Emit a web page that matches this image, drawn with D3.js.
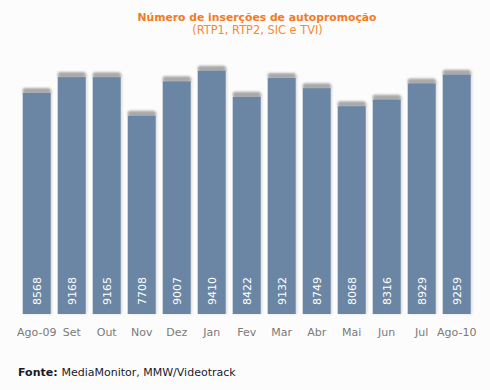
<!DOCTYPE html>
<html>
<head>
<meta charset="utf-8">
<script src="https://cdn.jsdelivr.net/npm/d3@7"></script>
<style>
  body { margin: 0; background: #fcfcfc; }
  svg { display: block; font-family: "DejaVu Sans", Verdana, sans-serif; }
</style>
</head>
<body>
<svg id="chart" width="490" height="390"></svg>
<script>
const months = ["Ago-09", "Set", "Out", "Nov", "Dez", "Jan", "Fev", "Mar", "Abr", "Mai", "Jun", "Jul", "Ago-10"];
const insertions = [8568, 9168, 9165, 7708, 9007, 9410, 8422, 9132, 8749, 8068, 8316, 8929, 9259];

let svg = d3.select("#chart");
let baseY = 314;

let x = d3.scaleBand()
  .domain(months)
  .range([19.2, 474.2])
  .paddingInner(0.2)
  .paddingOuter(0.1);

let y = d3.scaleLinear()
  .domain([0, 10000])
  .range([319.7, 55.1]);

let defs = svg.append("defs");
defs.append("filter")
  .attr("id", "soft")
  .attr("x", "-20%").attr("y", "-50%")
  .attr("width", "140%").attr("height", "200%")
  .append("feGaussianBlur")
  .attr("stdDeviation", 0.8);

// title
svg.append("text")
  .attr("x", 257).attr("y", 21)
  .attr("text-anchor", "middle")
  .attr("font-size", 10.8)
  .attr("font-weight", "bold")
  .attr("fill", "#f47a22")
  .text("Número de inserções de autopromoção");

svg.append("text")
  .attr("x", 257.5).attr("y", 34)
  .attr("text-anchor", "middle")
  .attr("font-size", 11.4)
  .attr("fill", "#f58a36")
  .text("(RTP1, RTP2, SIC e TVI)");

let bars = svg.append("g").selectAll("g")
  .data(months.map((m, i) => ({ month: m, value: insertions[i] })))
  .enter()
  .append("g");

// light shadow on the right
bars.append("rect")
  .attr("x", d => x(d.month) + 1.5)
  .attr("y", d => y(d.value) - 3)
  .attr("width", x.bandwidth())
  .attr("height", d => baseY - y(d.value) + 3)
  .attr("fill", "#dcdcdc")
  .attr("filter", "url(#soft)");

// grey cap
bars.append("rect")
  .attr("x", d => x(d.month))
  .attr("y", d => y(d.value) - 5)
  .attr("width", x.bandwidth())
  .attr("height", 6)
  .attr("rx", 2)
  .attr("fill", "#a9a9a9")
  .attr("filter", "url(#soft)");

bars.append("rect")
  .attr("x", d => x(d.month))
  .attr("y", d => y(d.value))
  .attr("width", x.bandwidth())
  .attr("height", d => baseY - y(d.value))
  .attr("fill", "#6a86a4");

bars.append("text")
  .attr("transform", d => "translate(" + (x(d.month) + x.bandwidth() / 2 + 4) + "," + 305 + ") rotate(-90)")
  .attr("font-size", 11)
  .attr("fill", "#ffffff")
  .text(d => d.value);

// x axis labels
let xAxis = d3.axisBottom(x).tickSize(0).tickPadding(0);
let gx = svg.append("g")
  .attr("transform", "translate(0," + 328 + ")")
  .call(xAxis);
gx.select(".domain").remove();
gx.selectAll("text")
  .attr("font-family", "DejaVu Sans, Verdana, sans-serif")
  .attr("font-size", 11)
  .attr("fill", "#7a7a7a");

// source
let src = svg.append("text")
  .attr("x", 18).attr("y", 376)
  .attr("font-size", 11)
  .attr("fill", "#1a1a2a");
src.append("tspan").attr("font-weight", "bold").text("Fonte: ");
src.append("tspan").text("MediaMonitor, MMW/Videotrack");
</script>
</body>
</html>
